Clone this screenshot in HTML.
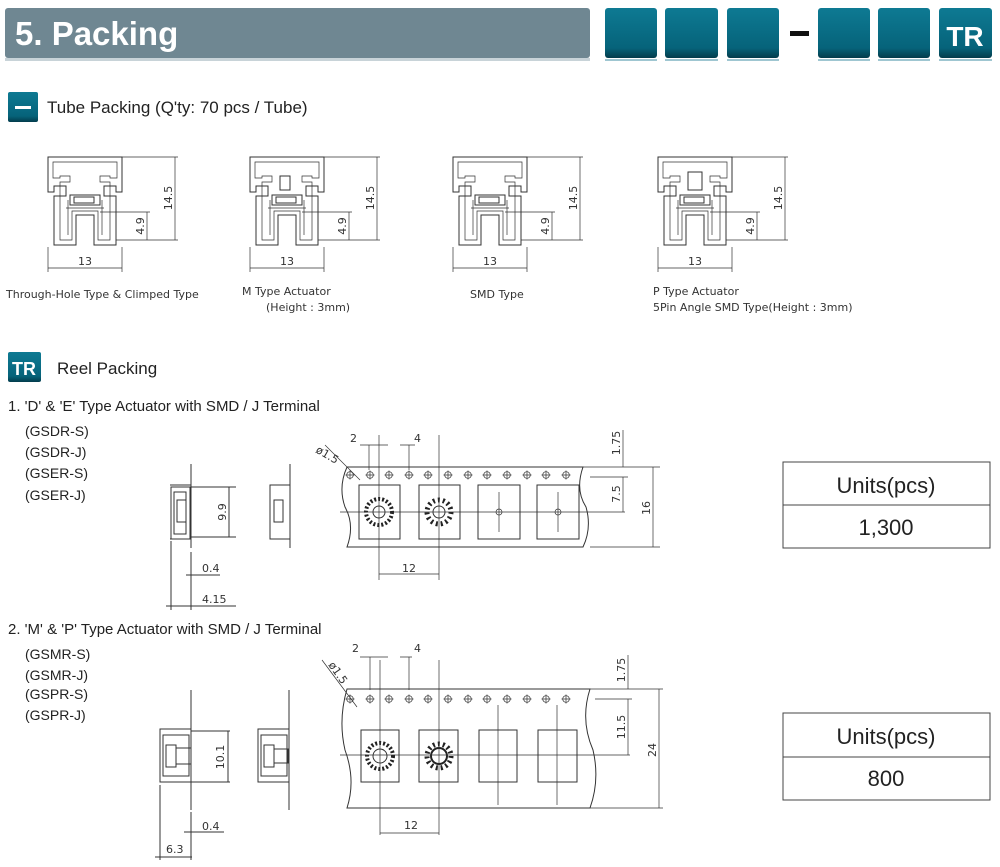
<!DOCTYPE html>
<html><head><meta charset="utf-8"><style>
body{margin:0;background:#fff;width:1000px;height:867px;overflow:hidden;font-family:"Liberation Sans",sans-serif}
svg{display:block}
.t{font-family:"Liberation Sans",sans-serif;fill:#222}
.d{font-family:"DejaVu Sans","Liberation Sans",sans-serif;fill:#333;font-size:11px}
.l{stroke:#333;stroke-width:1;fill:none}
.th{stroke:#333;stroke-width:.7;fill:none}
</style></head><body>
<svg width="1000" height="867" viewBox="0 0 1000 867">
<defs>
<linearGradient id="bx" x1="0" y1="0" x2="0" y2="1"><stop offset="0" stop-color="#0e7a93"/><stop offset=".8" stop-color="#06637a"/><stop offset="1" stop-color="#033c4c"/></linearGradient>
<g id="tube">
<path class="l" d="M48 157 H122 V192 H116 V186 H104 V196 H116 V245 H94 V215 H76 V245 H54 V196 H66 V186 H54 V192 H48 Z"/>
<path class="th" d="M53 162 H117 V178 H110 V176 H100 V182 H110 V240 H98 V211 H72 V240 H60 V182 H70 V176 H60 V178 H53 Z"/>
<rect class="l" x="70" y="195" width="30" height="10"/>
<rect class="l" x="74" y="197" width="20" height="6"/>
<path class="th" d="M66 208 H104 M68 200 V235 M102 200 V235"/>
<path class="th" d="M122 157 H178 M100 212 H150 M116 240 H178 M175 157 V240 M147 212 V240 M48 247 V272 M122 247 V272 M48 268 H122"/>
</g>
<g id="hole"><circle cx="0" cy="0" r="3.3" class="th"/><path class="th" d="M-4.5 0 H4.5 M0 -4.5 V4.5"/></g>
<g id="sideA">
<path class="l" d="M171 487 H190 V539 H171 Z M174 492 H186 V534 H174 Z"/>
<rect class="l" x="177" y="500" width="9" height="22"/>
</g>
</defs>

<!-- header -->
<rect x="5" y="8" width="585" height="50" rx="3" fill="#6f8792"/>
<rect x="5" y="58" width="585" height="3" fill="#c8d3d8"/>
<text x="15" y="45" class="t" font-size="33" font-weight="bold" style="fill:#fff">5. Packing</text>
<g>
<rect x="605" y="8" width="52" height="50" rx="3" fill="url(#bx)"/><rect x="605" y="59" width="52" height="2" fill="#9fc6d1"/>
<rect x="665" y="8" width="53" height="50" rx="3" fill="url(#bx)"/><rect x="665" y="59" width="53" height="2" fill="#9fc6d1"/>
<rect x="727" y="8" width="52" height="50" rx="3" fill="url(#bx)"/><rect x="727" y="59" width="52" height="2" fill="#9fc6d1"/>
<rect x="790" y="31" width="19" height="5" fill="#111"/>
<rect x="818" y="8" width="52" height="50" rx="3" fill="url(#bx)"/><rect x="818" y="59" width="52" height="2" fill="#9fc6d1"/>
<rect x="878" y="8" width="52" height="50" rx="3" fill="url(#bx)"/><rect x="878" y="59" width="52" height="2" fill="#9fc6d1"/>
<rect x="939" y="8" width="53" height="50" rx="3" fill="url(#bx)"/><rect x="939" y="59" width="53" height="2" fill="#9fc6d1"/>
<text x="965" y="46" text-anchor="middle" font-size="28" font-weight="bold" style="fill:#fff;font-family:'Liberation Sans',sans-serif">TR</text>
</g>

<!-- tube section -->
<rect x="8" y="92" width="30" height="30" rx="2" fill="url(#bx)"/>
<rect x="15" y="106" width="16" height="3" fill="#fff"/>
<text x="47" y="113" class="t" font-size="17">Tube Packing (Q'ty: 70 pcs / Tube)</text>

<use href="#tube"/>
<use href="#tube" x="202"/>
<use href="#tube" x="405"/>
<use href="#tube" x="610"/>
<g class="d" font-size="12">
<text x="85" y="265" text-anchor="middle">13</text>
<text x="287" y="265" text-anchor="middle">13</text>
<text x="490" y="265" text-anchor="middle">13</text>
<text x="695" y="265" text-anchor="middle">13</text>
<text transform="translate(172,198) rotate(-90)" text-anchor="middle">14.5</text>
<text transform="translate(144,226) rotate(-90)" text-anchor="middle">4.9</text>
<text transform="translate(374,198) rotate(-90)" text-anchor="middle">14.5</text>
<text transform="translate(346,226) rotate(-90)" text-anchor="middle">4.9</text>
<text transform="translate(577,198) rotate(-90)" text-anchor="middle">14.5</text>
<text transform="translate(549,226) rotate(-90)" text-anchor="middle">4.9</text>
<text transform="translate(782,198) rotate(-90)" text-anchor="middle">14.5</text>
<text transform="translate(754,226) rotate(-90)" text-anchor="middle">4.9</text>
</g>
<rect x="280" y="176" width="10" height="14" class="l"/>
<rect x="688" y="172" width="14" height="18" class="l"/>
<g class="d">
<text x="6" y="298">Through-Hole Type &amp; Climped Type</text>
<text x="242" y="295">M Type Actuator</text>
<text x="266" y="311">(Height : 3mm)</text>
<text x="470" y="298">SMD Type</text>
<text x="653" y="295">P Type Actuator</text>
<text x="653" y="311">5Pin Angle SMD Type(Height : 3mm)</text>
</g>

<!-- reel -->
<rect x="8" y="352" width="33" height="30" rx="2" fill="url(#bx)"/>
<text x="24" y="375" text-anchor="middle" font-size="18" font-weight="bold" style="fill:#fff;font-family:'Liberation Sans',sans-serif">TR</text>
<text x="57" y="374" class="t" font-size="17">Reel Packing</text>

<text x="8" y="411" class="t" font-size="15">1. 'D' &amp; 'E' Type Actuator with SMD / J Terminal</text>
<g class="t" font-size="14">
<text x="25" y="436">(GSDR-S)</text><text x="25" y="457">(GSDR-J)</text><text x="25" y="478">(GSER-S)</text><text x="25" y="500">(GSER-J)</text>
</g>
<path class="l" d="M191 464 V548 M170 485 H191 M170 539 H191 M191 487 H236 M191 537 H236 M229 487 V537 M191 552 V610 M171 541 V610 M186 575 H220 M166 606 H236"/>
<use href="#sideA"/>
<path class="l" d="M290 464 V548 M270 485 H290 V539 H270 Z"/>
<rect class="l" x="274" y="500" width="9" height="22"/>
<g class="d"><text transform="translate(226,512) rotate(-90)" text-anchor="middle">9.9</text><text x="202" y="572">0.4</text><text x="202" y="603">4.15</text></g>

<path class="l" d="M347 467 H583 Q575 490 586 507 Q592 528 583 547 H347 Q355 525 345 507 Q338 487 347 467 Z"/>
<g>
<use href="#hole" x="350" y="475"/><use href="#hole" x="370" y="475"/><use href="#hole" x="389" y="475"/><use href="#hole" x="409" y="475"/><use href="#hole" x="428" y="475"/><use href="#hole" x="448" y="475"/><use href="#hole" x="468" y="475"/><use href="#hole" x="487" y="475"/><use href="#hole" x="507" y="475"/><use href="#hole" x="527" y="475"/><use href="#hole" x="546" y="475"/><use href="#hole" x="566" y="475"/>
</g>
<g class="l">
<rect x="359" y="485" width="41" height="54"/><rect x="419" y="485" width="41" height="54"/><rect x="478" y="485" width="42" height="54"/><rect x="537" y="485" width="42" height="54"/>
</g>
<circle cx="379" cy="512" r="13" fill="none" stroke="#222" stroke-width="4" stroke-dasharray="2 2"/>
<circle cx="379" cy="512" r="6" class="l"/>
<circle cx="439" cy="512" r="12" fill="none" stroke="#222" stroke-width="5" stroke-dasharray="2 3"/>
<circle cx="439" cy="512" r="6" class="l"/>
<circle cx="499" cy="512" r="3" class="th"/><circle cx="558" cy="512" r="3" class="th"/>
<path class="th" d="M340 512 H625 M379 435 V580 M439 435 V580 M499 492 V532 M558 492 V532 M369 445 V470 M409 445 V470 M360 445 H388 M400 445 H415 M325 445 L360 480 M583 467 H660 M590 477 H628 M590 547 H660 M653 467 V547 M623 477 V512 M623 430 V467 M379 574 H439"/>
<g class="d">
<text x="350" y="442">2</text><text x="414" y="442">4</text>
<text transform="translate(315,452) rotate(30)">ø1.5</text>
<text x="402" y="572">12</text>
<text transform="translate(620,443) rotate(-90)" text-anchor="middle">1.75</text>
<text transform="translate(620,494) rotate(-90)" text-anchor="middle">7.5</text>
<text transform="translate(650,508) rotate(-90)" text-anchor="middle">16</text>
</g>
<rect x="783" y="462" width="207" height="86" fill="none" stroke="#444"/>
<line x1="783" y1="505" x2="990" y2="505" stroke="#444"/>
<text x="886" y="493" text-anchor="middle" class="t" font-size="22">Units(pcs)</text>
<text x="886" y="535" text-anchor="middle" class="t" font-size="22">1,300</text>

<text x="8" y="634" class="t" font-size="15">2. 'M' &amp; 'P' Type Actuator with SMD / J Terminal</text>
<g class="t" font-size="14">
<text x="25" y="659">(GSMR-S)</text><text x="25" y="680">(GSMR-J)</text><text x="25" y="699">(GSPR-S)</text><text x="25" y="720">(GSPR-J)</text>
</g>
<path class="l" d="M191 690 V810 M160 729 H191 V782 H160 Z M163 735 H189 V776 H163 Z M191 731 H230 M191 782 H230 M228 731 V782 M191 812 V860 M160 785 V860 M184 832 H224 M155 857 H192"/>
<rect class="l" x="166" y="745" width="10" height="22"/><rect class="l" x="176" y="748" width="15" height="16"/>
<path class="l" d="M289 690 V810 M258 729 H289 V782 H258 Z M261 735 H287 V776 H261 Z"/>
<rect class="l" x="264" y="745" width="10" height="22"/><rect class="l" x="274" y="749" width="14" height="14"/>
<g class="d"><text transform="translate(224,757) rotate(-90)" text-anchor="middle">10.1</text><text x="202" y="830">0.4</text><text x="166" y="853">6.3</text></g>

<path class="l" d="M347 689 H590 Q580 720 593 750 Q600 780 590 808 H347 Q356 780 345 750 Q338 720 347 689 Z"/>
<g>
<use href="#hole" x="350" y="699"/><use href="#hole" x="370" y="699"/><use href="#hole" x="389" y="699"/><use href="#hole" x="409" y="699"/><use href="#hole" x="428" y="699"/><use href="#hole" x="448" y="699"/><use href="#hole" x="468" y="699"/><use href="#hole" x="487" y="699"/><use href="#hole" x="507" y="699"/><use href="#hole" x="527" y="699"/><use href="#hole" x="546" y="699"/><use href="#hole" x="566" y="699"/>
</g>
<g class="l">
<rect x="361" y="730" width="38" height="52"/><rect x="419" y="730" width="39" height="52"/><rect x="479" y="730" width="38" height="52"/><rect x="538" y="730" width="39" height="52"/>
</g>
<circle cx="380" cy="756" r="13" fill="none" stroke="#222" stroke-width="4" stroke-dasharray="2 2"/>
<circle cx="380" cy="756" r="7" class="l"/>
<circle cx="439" cy="756" r="12" fill="none" stroke="#222" stroke-width="5" stroke-dasharray="2 3"/>
<circle cx="439" cy="756" r="8" fill="none" stroke="#222" stroke-width="2"/>
<path class="th" d="M340 755 H630 M380 660 V835 M439 660 V835 M498 705 V805 M557 705 V805 M370 657 V690 M409 657 V690 M360 657 H388 M400 657 H412 M322 660 L357 707 M590 689 H663 M595 699 H632 M590 808 H663 M659 689 V808 M628 699 V755 M628 655 V689 M380 833 H439"/>
<g class="d">
<text x="352" y="652">2</text><text x="414" y="652">4</text>
<text transform="translate(328,665) rotate(55)">ø1.5</text>
<text x="404" y="829">12</text>
<text transform="translate(625,670) rotate(-90)" text-anchor="middle">1.75</text>
<text transform="translate(625,727) rotate(-90)" text-anchor="middle">11.5</text>
<text transform="translate(656,750) rotate(-90)" text-anchor="middle">24</text>
</g>
<rect x="783" y="713" width="207" height="87" fill="none" stroke="#444"/>
<line x1="783" y1="757" x2="990" y2="757" stroke="#444"/>
<text x="886" y="744" text-anchor="middle" class="t" font-size="22">Units(pcs)</text>
<text x="886" y="786" text-anchor="middle" class="t" font-size="22">800</text>
</svg>
</body></html>
